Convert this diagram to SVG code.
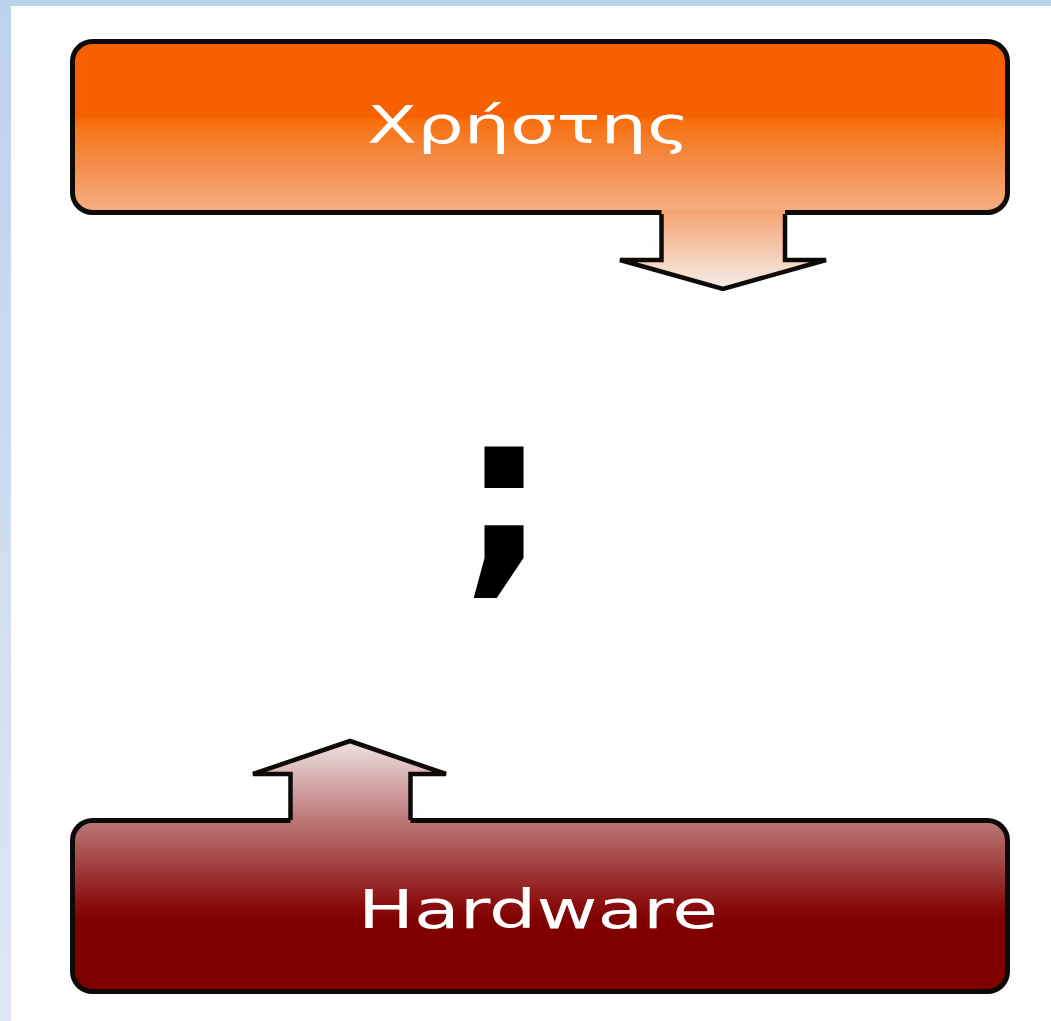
<svg xmlns="http://www.w3.org/2000/svg" width="1051" height="1021" viewBox="0 0 1051 1021">
<defs>
<linearGradient id="bg" x1="0" y1="0" x2="0" y2="1021" gradientUnits="userSpaceOnUse">
<stop offset="0" stop-color="#bdd2ee"/><stop offset="1" stop-color="#e0e7f4"/>
</linearGradient>
<linearGradient id="gTop" x1="0" y1="39" x2="0" y2="215" gradientUnits="userSpaceOnUse">
<stop offset="0" stop-color="#f66000"/><stop offset="0.44" stop-color="#f66000"/><stop offset="0.47" stop-color="#f8700f"/><stop offset="0.7" stop-color="#f48c48"/><stop offset="1" stop-color="#f7b085"/>
</linearGradient>
<linearGradient id="gDown" x1="0" y1="213" x2="0" y2="290" gradientUnits="userSpaceOnUse">
<stop offset="0" stop-color="#f6a676"/><stop offset="1" stop-color="#f5efec"/>
</linearGradient>
<linearGradient id="gUp" x1="0" y1="741" x2="0" y2="822" gradientUnits="userSpaceOnUse">
<stop offset="0" stop-color="#eee2e2"/><stop offset="1" stop-color="#bd7474"/>
</linearGradient>
<linearGradient id="gBot" x1="0" y1="818" x2="0" y2="994" gradientUnits="userSpaceOnUse">
<stop offset="0" stop-color="#bd7c7c"/><stop offset="0.2" stop-color="#a85050"/><stop offset="0.48" stop-color="#8c1010"/><stop offset="0.58" stop-color="#800000"/><stop offset="1" stop-color="#800000"/>
</linearGradient>
</defs>
<style>
.box{stroke:#0d0a08;stroke-width:5}
.arr{fill:none;stroke:#0d0a08;stroke-width:4.5;stroke-linejoin:miter}
.lbl{font-family:"DejaVu Sans","Liberation Sans",sans-serif;fill:#ffffff}
.q{font-family:"DejaVu Sans","Liberation Sans",sans-serif;font-weight:bold;fill:#000000}
</style>
<rect x="0" y="0" width="1051" height="1021" fill="url(#bg)"/>
<rect x="11" y="6" width="1040" height="1015" fill="#fefefe"/>
<g id="user">
<rect class="box" x="72.5" y="41.5" width="935" height="171" rx="20" ry="20" fill="url(#gTop)"/>
<text class="lbl" x="367" y="143" font-size="52" textLength="323" lengthAdjust="spacingAndGlyphs">Χρήστης</text>
</g>
<g id="hardware">
<rect class="box" x="72.5" y="820.5" width="935" height="171" rx="20" ry="20" fill="url(#gBot)"/>
<text class="lbl" x="358" y="928" font-size="53" textLength="360" lengthAdjust="spacingAndGlyphs">Hardware</text>
</g>
<g id="question">
<text class="q" transform="translate(504,566.5) scale(1.08,1.07)" x="0" y="0" font-size="205" text-anchor="middle">;</text>
</g>
<g id="connectors">
<polygon points="661.5,210 661.5,260 620,260 723,289 826,260 785,260 785,210" fill="url(#gDown)"/>
<polyline class="arr" points="661.5,214 661.5,260 620,260 723,289 826,260 785,260 785,214"/>
<polygon points="290.5,824 290.5,774 253,774 350,741 446,774 410.5,774 410.5,824" fill="url(#gUp)"/>
<polyline class="arr" points="290.5,820 290.5,774 253,774 350,741 446,774 410.5,774 410.5,820"/>
</g>
</svg>
